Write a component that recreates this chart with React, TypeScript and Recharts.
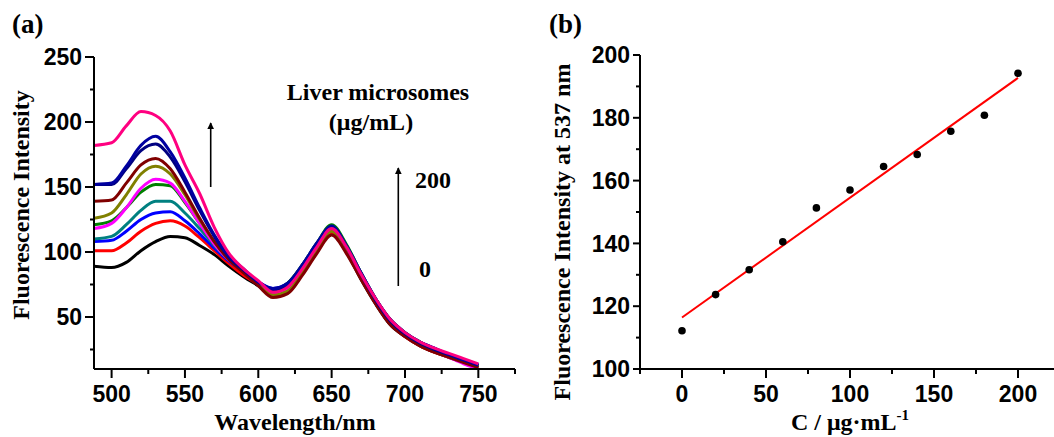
import React from 'react'
import { LineChart, Line, XAxis, YAxis, ScatterChart, Scatter } from 'recharts'

// (a) emission spectra, one curve per liver microsome concentration
const wavelengths = [488, 500, 510, 520, 530, 540, 550, 560, 570, 580, 590, 600, 610, 620, 630, 640, 650, 660, 670, 680, 690, 700, 710, 720, 730, 740, 750]

const c0 = [89, 88, 92, 101, 108, 112, 111, 105, 98, 89, 81, 74, 67, 69, 83, 100, 114, 100, 79, 60, 44, 35, 28, 23, 19, 15, 11]
const c20 = [101, 101, 107, 116, 122, 124, 120, 111, 101, 91, 82, 75, 67, 70, 84, 101, 115, 101, 80, 61, 45, 35, 28, 23, 19, 15, 11]
const c40 = [108, 109, 116, 125, 130, 131, 124, 114, 103, 93, 85, 77, 72, 76, 90, 107, 120, 105, 84, 64, 48, 38, 31, 26, 21, 17, 13]
const c60 = [110, 112, 121, 132, 139, 139, 130, 118, 105, 94, 85, 76, 70, 74, 88, 105, 119, 104, 83, 63, 47, 37, 30, 25, 20, 16, 12]
const c80 = [121, 124, 134, 146, 152, 151, 138, 122, 106, 95, 86, 77, 71, 76, 90, 107, 121, 106, 84, 64, 48, 38, 31, 25, 21, 17, 12]
const c100 = [118, 122, 134, 149, 156, 153, 139, 122, 106, 94, 85, 76, 68, 72, 86, 104, 118, 103, 82, 62, 46, 36, 29, 24, 19, 14, 10]
const c120 = [126, 130, 144, 160, 166, 160, 144, 125, 108, 95, 85, 75, 67, 70, 84, 101, 116, 102, 81, 62, 46, 36, 29, 24, 20, 16, 12]
const c140 = [139, 140, 153, 167, 172, 164, 146, 126, 108, 94, 84, 74, 65, 68, 82, 99, 113, 99, 79, 60, 44, 35, 28, 23, 19, 15, 11]
const c160 = [152, 152, 164, 178, 183, 173, 154, 132, 112, 96, 86, 77, 71, 75, 89, 106, 119, 104, 83, 63, 47, 37, 30, 25, 21, 17, 13]
const c180 = [152, 153, 166, 182, 189, 177, 157, 134, 113, 97, 87, 77, 72, 76, 90, 107, 120, 105, 84, 64, 48, 38, 31, 26, 21, 17, 13]
const c200 = [182, 184, 197, 208, 205, 193, 167, 145, 119, 99, 87, 78, 69, 73, 87, 104, 118, 104, 83, 64, 48, 38, 31, 26, 22, 18, 14]

const spectra = [
  { key: 'c0', values: c0, color: '#000000' },
  { key: 'c20', values: c20, color: '#ff0000' },
  { key: 'c40', values: c40, color: '#0000ff' },
  { key: 'c60', values: c60, color: '#008080' },
  { key: 'c80', values: c80, color: '#008000' },
  { key: 'c100', values: c100, color: '#ff00ff' },
  { key: 'c120', values: c120, color: '#808000' },
  { key: 'c140', values: c140, color: '#800000' },
  { key: 'c160', values: c160, color: '#000080' },
  { key: 'c180', values: c180, color: '#0000a0' },
  { key: 'c200', values: c200, color: '#ff0080' },
]

const specRows = wavelengths.map((w, i) => {
  const row: Record<string, number> = { w }
  spectra.forEach(s => { row[s.key] = s.values[i] })
  return row
})

// (b) intensity at 537 nm vs concentration, plus linear fit
const conc = [0, 20, 40, 60, 80, 100, 120, 140, 160, 180, 200]
const intensity537 = [112.2, 123.7, 131.6, 140.5, 151.3, 157.0, 164.5, 168.3, 175.7, 180.8, 194.2]
const fitX = [0, 200]
const fitY = [116.4, 192.7]

const points = conc.map((c, i) => ({ x: c, y: intensity537[i] }))
const fitPts = fitX.map((x, i) => ({ x, y: fitY[i] }))

const ticksAX = [500, 525, 550, 575, 600, 625, 650, 675, 700, 725, 750, 775]
const ticksAY = [25, 50, 75, 100, 125, 150, 175, 200, 225, 250]
const ticksBX = [-25, 0, 25, 50, 75, 100, 125, 150, 175, 200, 225]
const ticksBY = [100, 110, 120, 130, 140, 150, 160, 170, 180, 190, 200]

const SANS = '"Liberation Sans", Arial, sans-serif'
const SERIF = '"Liberation Serif", "Times New Roman", serif'

const bottomTick = (step: number, fs: number) => (props: any) => {
  const { x, y, payload } = props
  const major = payload.value % step === 0
  return (
    <g>
      <line x1={x} y1={y} x2={x} y2={y + (major ? 9 : 5)} stroke="#000" strokeWidth={2} />
      {major && (
        <text x={x} y={y + 33} textAnchor="middle" fontFamily={SANS} fontWeight="bold" fontSize={fs} fill="#000">
          {payload.value}
        </text>
      )}
    </g>
  )
}

const leftTick = (step: number, fs: number, len: number) => (props: any) => {
  const { x, y, payload } = props
  const major = payload.value % step === 0
  return (
    <g>
      <line x1={x} y1={y} x2={x - (major ? len : 4)} y2={y} stroke="#000" strokeWidth={2} />
      {major && (
        <text x={x - len - 3} y={y} dy="0.36em" textAnchor="end" fontFamily={SANS} fontWeight="bold" fontSize={fs} fill="#000">
          {payload.value}
        </text>
      )}
    </g>
  )
}

const Dot = (props: any) => <circle cx={props.cx} cy={props.cy} r={3.8} fill="#000" />
const NoDot = () => <g />

export default function App() {
  const title = { fontFamily: SERIF, fontWeight: 'bold' as const, fontSize: 24, fill: '#000' }
  return (
    <div style={{ position: 'absolute', left: 0, top: 0, width: 1054, height: 437, overflow: 'hidden', background: '#fff' }}>
      <div style={{ position: 'absolute', left: 0, top: 0 }}>
        <LineChart width={540} height={437} data={specRows} margin={{ top: 57, right: 25, bottom: 38, left: 30 }}>
          <XAxis
            dataKey="w"
            type="number"
            domain={[488, 775]}
            allowDataOverflow
            ticks={ticksAX}
            interval={0}
            height={30}
            tickSize={0}
            tickMargin={0}
            tickLine={false}
            axisLine={{ stroke: '#000', strokeWidth: 2 }}
            tick={bottomTick(50, 23)}
          />
          <YAxis
            type="number"
            domain={[10, 250]}
            allowDataOverflow
            ticks={ticksAY}
            interval={0}
            width={64}
            tickSize={0}
            tickMargin={0}
            tickLine={false}
            axisLine={{ stroke: '#000', strokeWidth: 2 }}
            tick={leftTick(50, 23, 9)}
          />
          {spectra.map(s => (
            <Line
              key={s.key}
              dataKey={s.key}
              type="monotone"
              stroke={s.color}
              strokeWidth={3}
              dot={false}
              isAnimationActive={false}
            />
          ))}
        </LineChart>
      </div>

      <div style={{ position: 'absolute', left: 540, top: 0 }}>
        <ScatterChart width={540} height={437} margin={{ top: 55, right: 20, bottom: 38, left: 36 }}>
          <XAxis
            dataKey="x"
            type="number"
            domain={[-25, 225]}
            allowDataOverflow
            ticks={ticksBX}
            interval={0}
            height={30}
            tickSize={0}
            tickMargin={0}
            tickLine={false}
            axisLine={{ stroke: '#000', strokeWidth: 2 }}
            tick={bottomTick(50, 23)}
          />
          <YAxis
            dataKey="y"
            type="number"
            domain={[100, 200]}
            allowDataOverflow
            ticks={ticksBY}
            interval={0}
            width={64}
            tickSize={0}
            tickMargin={0}
            tickLine={false}
            axisLine={{ stroke: '#000', strokeWidth: 2 }}
            tick={leftTick(20, 23, 7)}
          />
          <Scatter data={fitPts} line={{ stroke: '#ff0000', strokeWidth: 2 }} shape={NoDot} isAnimationActive={false} />
          <Scatter data={points} shape={Dot} isAnimationActive={false} />
        </ScatterChart>
      </div>

      <svg width={1054} height={437} style={{ position: 'absolute', left: 0, top: 0, pointerEvents: 'none' }}>
        <defs>
          <marker id="head" viewBox="0 0 10 10" refX="9" refY="5" markerWidth="4.5" markerHeight="4.5" orient="auto">
            <path d="M0,0 L10,5 L0,10 z" fill="#000" />
          </marker>
        </defs>
        <text x={12} y={33} {...title} fontSize={27}>(a)</text>
        <text x={549} y={33} {...title} fontSize={27}>(b)</text>

        <text x={378} y={100} textAnchor="middle" {...title}>Liver microsomes</text>
        <text x={371} y={130} textAnchor="middle" {...title}>(μg/mL)</text>
        <text x={415} y={188} {...title}>200</text>
        <text x={419} y={277} {...title}>0</text>
        <line x1={210.7} y1={187} x2={210.7} y2={123} stroke="#000" strokeWidth={1.6} markerEnd="url(#head)" />
        <line x1={398.3} y1={286} x2={398.3} y2={168} stroke="#000" strokeWidth={1.6} markerEnd="url(#head)" />

        <text x={295} y={430} textAnchor="middle" {...title}>Wavelength/nm</text>
        <text transform="translate(29,205) rotate(-90)" textAnchor="middle" {...title}>Fluorescence Intensity</text>

        <text x={850} y={430} textAnchor="middle" {...title}>
          <tspan>C / μg·mL</tspan>
          <tspan dy={-10} fontSize={15}>-1</tspan>
        </text>
        <text transform="translate(570,232) rotate(-90)" textAnchor="middle" {...title}>Fluorescence Intensity at 537 nm</text>
      </svg>
    </div>
  )
}
